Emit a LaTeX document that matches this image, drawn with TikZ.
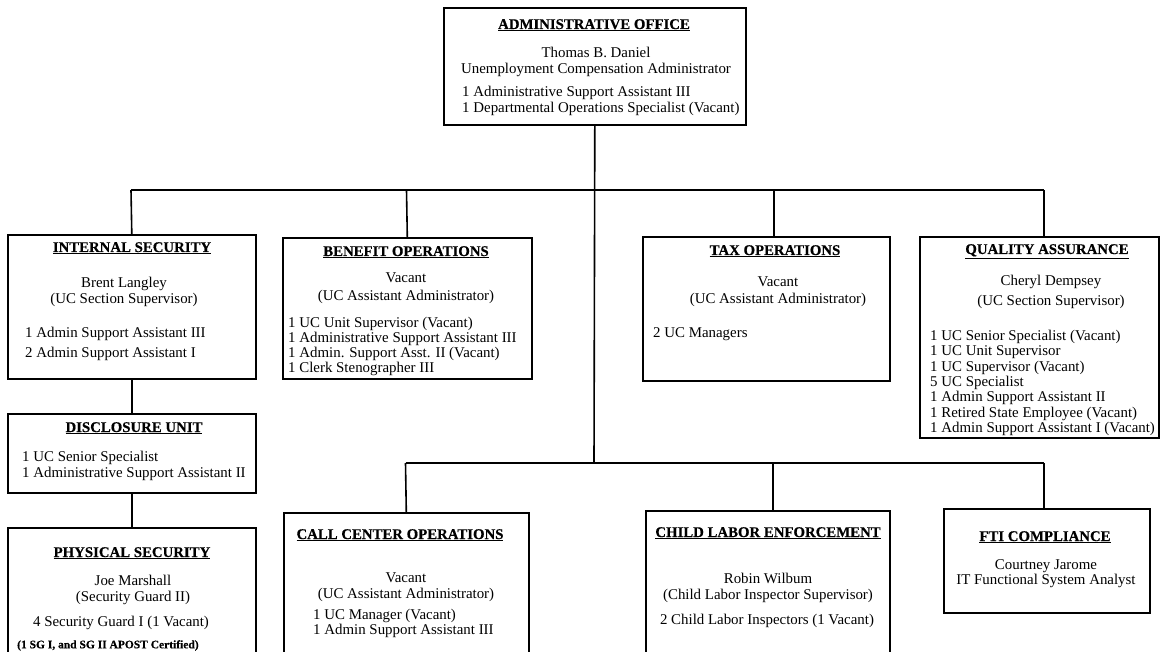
\documentclass[tikz,border=0pt]{standalone}
\usepackage{fontspec}
\setmainfont{Liberation Serif}[BoldFeatures={FakeBold=0.45}]
\begin{document}
\begin{tikzpicture}[x=1pt,y=-1pt,
  unitbox/.style={draw, line width=1.6pt, rectangle, anchor=north west, inner sep=0pt},
  link/.style={line width=1.6pt},
  head/.style={font=\bfseries\fontsize{14.8}{16}\selectfont, inner sep=0pt, anchor=north},
  body/.style={font=\fontsize{14.9}{#1}\selectfont, inner sep=0pt, anchor=north, align=center},
  body/.default=16,
  roster/.style={font=\fontsize{14.9}{#1}\selectfont, inner sep=0pt, anchor=north west, align=left},
  roster/.default=15.5,
]
\useasboundingbox (0,0) rectangle (1161,652);
\clip (0,0) rectangle (1161,652);

% ---- unit boxes ----
\node[unitbox, minimum width=302pt, minimum height=117pt] (admin) at (443,7) {};
\node[unitbox, minimum width=248pt, minimum height=144pt] (intsec) at (7,234) {};
\node[unitbox, minimum width=249pt, minimum height=141pt] (benefit) at (282,237) {};
\node[unitbox, minimum width=247pt, minimum height=144pt] (tax) at (642,236) {};
\node[unitbox, minimum width=239pt, minimum height=201pt] (qa) at (919,236) {};
\node[unitbox, minimum width=248pt, minimum height=79pt] (disc) at (7,413) {};
\node[unitbox, minimum width=248pt, minimum height=200pt] (phys) at (7,527) {};
\node[unitbox, minimum width=245pt, minimum height=200pt] (call) at (283,512) {};
\node[unitbox, minimum width=244pt, minimum height=200pt] (child) at (645,510) {};
\node[unitbox, minimum width=206pt, minimum height=104pt] (fti) at (943,508) {};

% ---- administrative office ----
\node[head] (admin-h) at (594,19) {\underline{ADMINISTRATIVE OFFICE}};
\node[body] (admin-n) at (596,47) {Thomas B. Daniel\\Unemployment Compensation Administrator};
\node[roster=16] (admin-r) at (462,86) {1 Administrative Support Assistant III\\1 Departmental Operations Specialist (Vacant)};

% ---- internal security ----
\node[head] (intsec-h) at (132,242) {\underline{INTERNAL SECURITY}};
\node[body] (intsec-n) at (124,277) {Brent Langley\\(UC Section Supervisor)};
\node[roster=20] (intsec-r) at (25,327) {1 Admin Support Assistant III\\2 Admin Support Assistant I};

% ---- benefit operations ----
\node[head] (benefit-h) at (406,246) {\underline{BENEFIT OPERATIONS}};
\node[body=18] (benefit-n) at (406,273) {Vacant\\(UC Assistant Administrator)};
\node[roster=15] (benefit-r) at (288,317) {1 UC Unit Supervisor (Vacant)\\1 Administrative Support Assistant III\\1 Admin. Support Asst. II (Vacant)\\1 Clerk Stenographer III};

% ---- tax operations ----
\node[head] (tax-h) at (775,245) {\underline{TAX OPERATIONS}};
\node[body=17] (tax-n) at (778,277) {Vacant\\(UC Assistant Administrator)};
\node[roster] (tax-r) at (653,327) {2 UC Managers};

% ---- quality assurance ----
\node[head] (qa-h) at (1047,244) {\underline{QUALITY ASSURANCE}};
\node[body=20] (qa-n) at (1051,275) {Cheryl Dempsey\\(UC Section Supervisor)};
\node[roster=15.3] (qa-r) at (930,330) {1 UC Senior Specialist (Vacant)\\1 UC Unit Supervisor\\1 UC Supervisor (Vacant)\\5 UC Specialist\\1 Admin Support Assistant II\\1 Retired State Employee (Vacant)\\1 Admin Support Assistant I (Vacant)};

% ---- disclosure unit ----
\node[head] (disc-h) at (134,422) {\underline{DISCLOSURE UNIT}};
\node[roster=16] (disc-r) at (22,451) {1 UC Senior Specialist\\1 Administrative Support Assistant II};

% ---- physical security ----
\node[head] (phys-h) at (132,547) {\underline{PHYSICAL SECURITY}};
\node[body] (phys-n) at (133,575) {Joe Marshall\\(Security Guard II)};
\node[body] (phys-g) at (121,616) {4 Security Guard I (1 Vacant)};
\node[font=\bfseries\fontsize{11.5}{12}\selectfont, inner sep=0pt, anchor=north west] (phys-c) at (17,640) {(1 SG I, and SG II APOST Certified)};

% ---- call center operations ----
\node[head] (call-h) at (400,529) {\underline{CALL CENTER OPERATIONS}};
\node[body] (call-n) at (406,573) {Vacant\\(UC Assistant Administrator)};
\node[roster=15] (call-r) at (313,609) {1 UC Manager (Vacant)\\1 Admin Support Assistant III};

% ---- child labor enforcement ----
\node[head] (child-h) at (768,527) {\underline{CHILD LABOR ENFORCEMENT}};
\node[body] (child-n) at (768,573) {Robin Wilbum\\(Child Labor Inspector Supervisor)};
\node[body] (child-r) at (767,614) {2 Child Labor Inspectors (1 Vacant)};

% ---- FTI compliance ----
\node[head] (fti-h) at (1045,531) {\underline{FTI COMPLIANCE}};
\node[body=15] (fti-n) at (1046,559) {Courtney Jarome\\IT Functional System Analyst};

% ---- reporting lines ----
\coordinate (busB) at (594,463);
\coordinate (tL) at (131,190);
\coordinate (tB) at (406.5,190);
\coordinate (tT) at (774,190);
\coordinate (tR) at (1044,190);
\coordinate (bL) at (405.5,463);
\coordinate (bC) at (773,463);
\coordinate (bR) at (1044,463);

\draw[link] (admin.south) -- (busB);
\draw[link] (tL) -- (tR);
\draw[link] (tL) -- (intsec.north);
\draw[link] (tB) -- (benefit.north);
\draw[link] (tT) -- (tT |- tax.north);
\draw[link] (tR) -- (tR |- qa.north);
\draw[link] (intsec.south) -- (disc.north);
\draw[link] (disc.south) -- (phys.north);

\draw[link] (bL) -- (bR);
\draw[link] (bL) -- (call.north);
\draw[link] (bC) -- (bC |- child.north);
\draw[link] (bR) -- (bR |- fti.north);
\end{tikzpicture}
\end{document}
